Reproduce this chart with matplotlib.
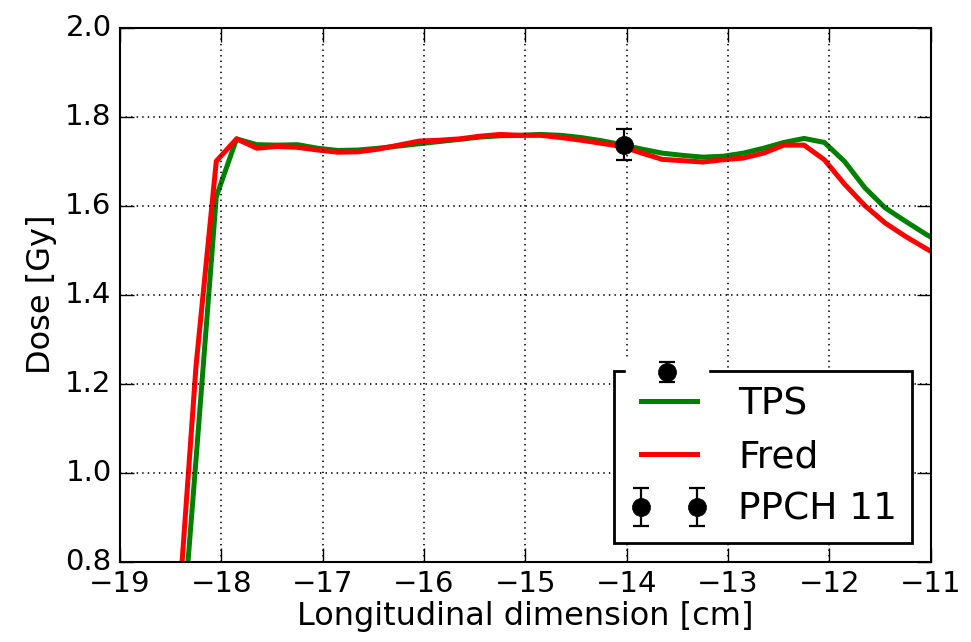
import numpy as np
import matplotlib
matplotlib.use("Agg")
import matplotlib.pyplot as plt

plt.style.use("classic")

# depth positions [cm]
x_cm = [-18.45, -18.25, -18.05, -17.85, -17.65, -17.45, -17.25, -17.05, -16.85, -16.65,
        -16.45, -16.25, -16.05, -15.85, -15.65, -15.45, -15.25, -15.05, -14.85, -14.65,
        -14.45, -14.25, -14.05, -13.85, -13.65, -13.45, -13.25, -13.05, -12.85, -12.65,
        -12.45, -12.25, -12.05, -11.85, -11.65, -11.45, -11.25, -11.05, -10.85]

tps = [0.45, 1.03, 1.62, 1.750, 1.737, 1.736, 1.737, 1.729, 1.724, 1.725,
       1.729, 1.734, 1.739, 1.744, 1.749, 1.754, 1.757, 1.758, 1.760, 1.758,
       1.753, 1.746, 1.737, 1.727, 1.718, 1.713, 1.709, 1.711, 1.718, 1.729,
       1.742, 1.751, 1.742, 1.699, 1.640, 1.595, 1.565, 1.536, 1.510]

fred = [0.60, 1.24, 1.70, 1.750, 1.729, 1.733, 1.731, 1.725, 1.720, 1.721,
        1.727, 1.736, 1.745, 1.747, 1.750, 1.756, 1.760, 1.758, 1.758, 1.753,
        1.747, 1.740, 1.733, 1.718, 1.704, 1.701, 1.698, 1.703, 1.707, 1.718,
        1.736, 1.736, 1.703, 1.648, 1.600, 1.561, 1.531, 1.504, 1.478]

# measurement
ppch_x = [-14.03]
ppch_y = [1.737]
ppch_err = [0.035]

fig = plt.figure(figsize=(9.71, 6.42), dpi=100, facecolor="white")
ax = fig.add_axes([0.1236, 0.125, 0.835, 0.832])

ax.plot(x_cm, tps, color="g", lw=3.6, label="TPS")
ax.plot(x_cm, fred, color="r", lw=3.6, label="Fred")
eb = ax.errorbar(ppch_x, ppch_y, yerr=ppch_err, fmt="o", color="k", ms=13,
                 elinewidth=1.6, capsize=6, capthick=1.6, label="PPCH 11", zorder=4)

ax.set_xlim(-19, -11)
ax.set_ylim(0.8, 2.0)
ax.set_xticks(np.arange(-19, -10.9, 1))
ax.set_yticks(np.arange(0.8, 2.01, 0.2))
ax.grid(True, color="k", linestyle=":", linewidth=1.2)
ax.tick_params(labelsize=21, length=10, width=1, direction="in", pad=6)
ax.set_xlabel("Longitudinal dimension [cm]", fontsize=23, labelpad=2)
ax.set_ylabel("Dose [Gy]", fontsize=23, labelpad=6)
for s in ax.spines.values():
    s.set_linewidth(1.5)

leg = ax.legend(loc="lower right", fontsize=27, numpoints=2, handlelength=2.1,
                borderaxespad=0.5, labelspacing=0.45, frameon=True, fancybox=False)
leg.get_frame().set_linewidth(2)

# stray errorbar entry sitting on top of the legend frame
leg2 = ax.legend(handles=[eb], labels=[""], loc="center", numpoints=1,
                 bbox_to_anchor=(0.675, 0.353), fontsize=14, handlelength=3.6,
                 borderpad=0.3, handletextpad=0.0, fancybox=False)
leg2.get_frame().set_edgecolor("white")
leg2.set_zorder(6)
ax.add_artist(leg)

fig.savefig("out.png", dpi=100, facecolor="white")
